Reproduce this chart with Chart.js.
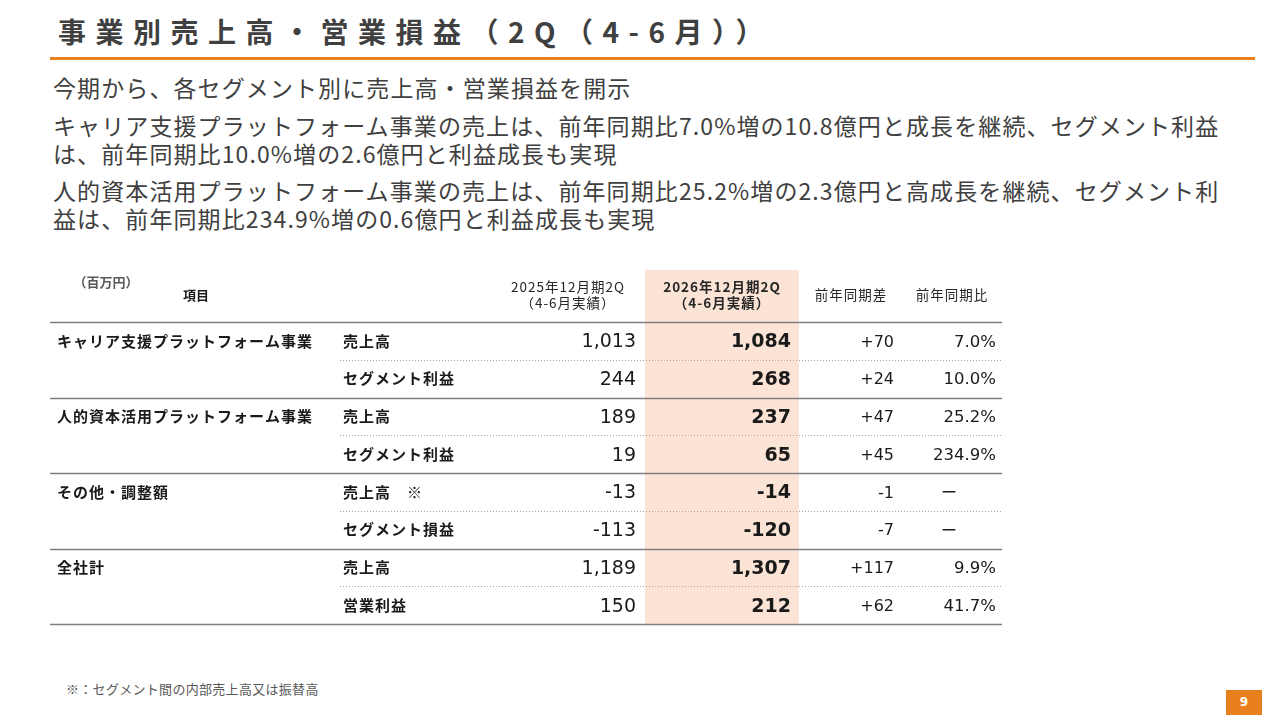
<!DOCTYPE html>
<html lang="ja">
<head>
<meta charset="utf-8">
<script src="https://cdn.jsdelivr.net/npm/chart.js@4.4.1/dist/chart.umd.min.js"></script>
<style>
  body { margin: 0; width: 1280px; height: 720px; background: #fff; position: relative; overflow: hidden;
         font-family: "Noto Sans CJK JP", sans-serif; color: #404040; }
  #title { position: absolute; left: 58px; top: 11px; font-size: 28px; line-height: 40px; font-weight: bold;
           letter-spacing: 9.5px; white-space: nowrap; }
  #rule { position: absolute; left: 50px; top: 57px; width: 1205px; height: 3px; background: #e8801e; }
  .txt { position: absolute; left: 53px; font-size: 23px; line-height: 28px; letter-spacing: 1.1px; white-space: nowrap; }
  #note { position: absolute; left: 66px; top: 680px; font-size: 13px; line-height: 18px; letter-spacing: 0.3px; color: #595959; }
  #page { position: absolute; left: 1226px; top: 690px; width: 36px; height: 25px; background: #e8801e;
          color: #fff; font: bold 12px "DejaVu Sans", sans-serif; line-height: 25px; text-align: center; }
  #table { position: absolute; left: 0; top: 262px; }
</style>
</head>
<body>
<div id="title">事業別売上高・営業損益（2Q（4-6月））</div>
<div id="rule"></div>
<div class="txt" style="top:73px">今期から、各セグメント別に売上高・営業損益を開示</div>
<div class="txt" style="top:111px">キャリア支援プラットフォーム事業の売上は、前年同期比7.0%増の10.8億円と成長を継続、セグメント利益</div>
<div class="txt" style="top:139px">は、前年同期比10.0%増の2.6億円と利益成長も実現</div>
<div class="txt" style="top:176px">人的資本活用プラットフォーム事業の売上は、前年同期比25.2%増の2.3億円と高成長を継続、セグメント利</div>
<div class="txt" style="top:204px">益は、前年同期比234.9%増の0.6億円と利益成長も実現</div>

<canvas id="table" width="1280" height="372"></canvas>

<div id="note">※：セグメント間の内部売上高又は振替高</div>
<div id="page">9</div>

<script>
// table data (百万円)
const unitLabel = "（百万円）";
const itemHeader = "項目";
const colHeaders = [["2025年12月期2Q", "（4-6月実績）"], ["2026年12月期2Q", "（4-6月実績）"], ["前年同期差"], ["前年同期比"]];
const segments = ["キャリア支援プラットフォーム事業", "人的資本活用プラットフォーム事業", "その他・調整額", "全社計"];
const items = ["売上高", "セグメント利益", "売上高", "セグメント利益", "売上高　※", "セグメント損益", "売上高", "営業利益"];
const fy2025 = [1013, 244, 189, 19, -13, -113, 1189, 150];
const fy2026 = [1084, 268, 237, 65, -14, -120, 1307, 212];
const yoyDiff = [70, 24, 47, 45, -1, -7, 117, 62];
const yoyRatio = [7.0, 10.0, 25.2, 234.9, null, null, 9.9, 41.7];

// layout: x scale runs in page pixels, y scale in table rows
const ROW_PX = 37.75;
const Y_MIN = -60 / ROW_PX;
const Y_MAX = items.length + 10 / ROW_PX;
const HEAD_TOP = Y_MIN + 8 / ROW_PX;
const TABLE_L = 50, TABLE_R = 1002, SUB_L = 340;
const HILITE_L = 645, HILITE_R = 799;

const numFont = '"DejaVu Sans", sans-serif';
const jpFont = '"Noto Sans CJK JP", sans-serif';

const fmtNum = v => v.toLocaleString("en-US");
const fmtDiff = v => (v > 0 ? "+" : "") + v;
const fmtRatio = v => v == null ? "ー" : v.toFixed(1) + "%";

function column(xPos, texts, rows, style) {
  return Object.assign({
    data: rows.map(r => ({ x: xPos, y: r + 0.5 })),
    texts: texts,
    pointRadius: 0,
    dy: 0
  }, style);
}

const datasets = [
  column(57, segments, [0, 2, 4, 6], { font: "bold 15px " + jpFont, spacing: "1px", align: "left" }),
  column(343, items, items.map((_, i) => i), { font: "bold 15px " + jpFont, spacing: "1px", align: "left" }),
  column(636, fy2025.map(fmtNum), fy2025.map((_, i) => i), { font: "19px " + numFont, align: "right", dy: 1.5 }),
  column(791, fy2026.map(fmtNum), fy2026.map((_, i) => i), { font: "bold 19px " + numFont, align: "right", dy: 1.5 }),
  column(894, yoyDiff.map(fmtDiff), yoyDiff.map((_, i) => i), { font: "16px " + numFont, align: "right", dy: 1.5 }),
  column(996, yoyRatio.map(fmtRatio), yoyRatio.map((_, i) => i), { font: "16.5px " + numFont, align: "right", dy: 1.5 })
];

const tablePlugin = {
  id: "tableCells",
  beforeDatasetsDraw(chart) {
    const { ctx, scales: { x, y } } = chart;
    ctx.save();
    // highlighted current-year column
    const top = y.getPixelForValue(HEAD_TOP), bottom = y.getPixelForValue(items.length);
    ctx.fillStyle = "#fbe4d6";
    ctx.fillRect(x.getPixelForValue(HILITE_L), top, x.getPixelForValue(HILITE_R) - x.getPixelForValue(HILITE_L), bottom - top);

    // row rules
    for (let r = 0; r <= items.length; r++) {
      const py = Math.round(y.getPixelForValue(r)) + 0.5;
      ctx.beginPath();
      if (r % 2 === 0) {
        ctx.setLineDash([]);
        ctx.strokeStyle = "#7f7f7f";
        ctx.lineWidth = 1.6;
        ctx.moveTo(x.getPixelForValue(TABLE_L), py);
      } else {
        ctx.setLineDash([1, 2]);
        ctx.strokeStyle = "#a6a6a6";
        ctx.lineWidth = 1;
        ctx.moveTo(x.getPixelForValue(SUB_L), py);
      }
      ctx.lineTo(x.getPixelForValue(TABLE_R), py);
      ctx.stroke();
    }
    ctx.restore();
  },
  afterDatasetsDraw(chart) {
    const { ctx, scales: { x, y } } = chart;
    ctx.save();
    ctx.textBaseline = "middle";

    // header
    const hy = v => y.getPixelForValue(v / ROW_PX);
    ctx.font = "bold 13px " + jpFont;
    ctx.fillStyle = "#595959";
    ctx.textAlign = "center";
    ctx.letterSpacing = "0px";
    ctx.fillText(unitLabel, x.getPixelForValue(106), hy(-40));
    ctx.fillStyle = "#1a1a1a";
    ctx.font = "bold 13px " + jpFont;
    ctx.fillText(itemHeader, x.getPixelForValue(196), hy(-27));

    const headCenters = [568, 722, 851, 952];
    ctx.letterSpacing = "1px";
    colHeaders.forEach((lines, c) => {
      ctx.font = (c === 1 ? "bold " : "") + "13.5px " + jpFont;
      ctx.fillStyle = "#262626";
      if (lines.length === 2) {
        ctx.fillText(lines[0], x.getPixelForValue(headCenters[c]), hy(-35));
        ctx.fillText(lines[1], x.getPixelForValue(headCenters[c]), hy(-19));
      } else {
        ctx.fillText(lines[0], x.getPixelForValue(headCenters[c]), hy(-27));
      }
    });

    // body cells at the positions the scales gave each point
    ctx.fillStyle = "#1a1a1a";
    chart.data.datasets.forEach((ds, d) => {
      const meta = chart.getDatasetMeta(d);
      meta.data.forEach((pt, i) => {
        const t = ds.texts[i];
        if (t === "ー") {
          ctx.font = "16px " + jpFont;
          ctx.letterSpacing = "0px";
          ctx.textAlign = "center";
          ctx.fillText(t, x.getPixelForValue(949), pt.y);
          return;
        }
        ctx.font = ds.font;
        ctx.letterSpacing = ds.spacing || "0px";
        ctx.textAlign = ds.align;
        ctx.fillText(t, pt.x, pt.y + ds.dy);
      });
    });
    ctx.restore();
  }
};

new Chart(document.getElementById("table").getContext("2d"), {
  type: "scatter",
  data: { datasets: datasets },
  options: {
    responsive: false,
    animation: false,
    events: [],
    layout: { padding: 0 },
    plugins: { legend: { display: false }, tooltip: { enabled: false } },
    scales: {
      x: { type: "linear", display: false, min: 0, max: 1280 },
      y: { type: "linear", display: false, reverse: true, min: Y_MIN, max: Y_MAX }
    }
  },
  plugins: [tablePlugin]
});
</script>
</body>
</html>
